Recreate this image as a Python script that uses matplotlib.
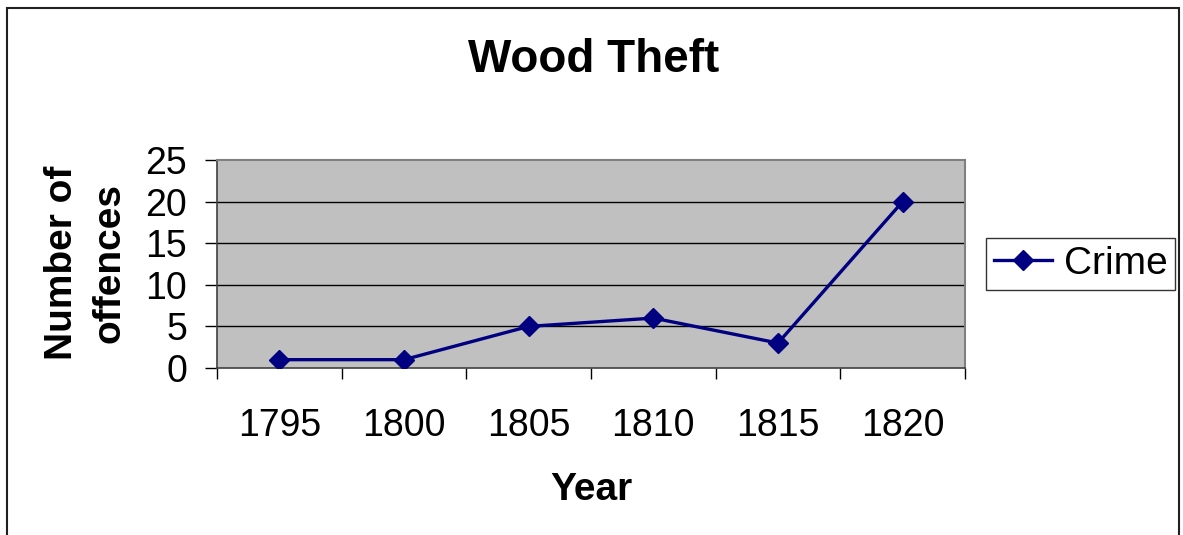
import matplotlib
matplotlib.use("Agg")
import matplotlib.pyplot as plt
from matplotlib.patches import Rectangle

plt.rcParams['font.family'] = ['Liberation Sans', 'DejaVu Sans']

years = ['1795', '1800', '1805', '1810', '1815', '1820']
crime = [1, 1, 5, 6, 3, 20]
yticks = [0, 5, 10, 15, 20, 25]

W, H = 1183, 535
fig = plt.figure(figsize=(W / 100, H / 100), dpi=100)
ax = fig.add_axes([217 / W, 1 - 368 / H, (965 - 217) / W, (368 - 160) / H])
ax.set_facecolor('#C0C0C0')

x = list(range(len(years)))
ax.plot(x, crime, color='#000080', lw=2.4, marker='D', ms=10, label='Crime', zorder=3)

ax.set_xlim(-0.5, len(years) - 0.5)
ax.set_ylim(0, 25)
ax.set_yticks(yticks)
ax.set_yticklabels([str(v) for v in yticks], fontsize=27)
ax.set_xticks(x)
ax.set_xticklabels(years, fontsize=27)
ax.set_xticks([i - 0.5 for i in range(len(years) + 1)], minor=True)
ax.tick_params(axis='x', which='major', length=0, pad=28.5)
ax.tick_params(axis='x', which='minor', length=8, width=1, direction='out', color='black')
ax.tick_params(axis='y', which='major', length=8.5, width=1, direction='out', pad=13, color='black')

for v in yticks[1:-1]:
    ax.axhline(v, color='black', lw=1, zorder=1)

for s in ['top', 'right']:
    ax.spines[s].set_color('#808080')
    ax.spines[s].set_linewidth(1.5)
for s in ['left', 'bottom']:
    ax.spines[s].set_color('#404040')
    ax.spines[s].set_linewidth(1.2)

fig.text(594 / W, 1 - 72 / H, 'Wood Theft', fontsize=33, fontweight='bold', ha='center', va='baseline')
fig.text(591 / W, 1 - 500 / H, 'Year', fontsize=28, fontweight='bold', ha='center', va='baseline')
fig.text(86 / W, 1 - 263 / H, 'Number of\noffences', fontsize=28, fontweight='bold', rotation=90,
         ha='center', va='center', multialignment='center', linespacing=1.4)

leg = fig.legend(loc='center left', bbox_to_anchor=(986 / W, 1 - 264 / H), fontsize=28,
                 frameon=True, fancybox=False, shadow=False, handlelength=1.5, handletextpad=0.3,
                 borderpad=0.2, borderaxespad=0)
leg.get_frame().set_edgecolor('black')
leg.get_frame().set_linewidth(1)

fig.patches.append(Rectangle((7 / W, -0.05), (1179 - 7) / W, 1.05 - 8 / H, transform=fig.transFigure,
                             fill=False, edgecolor='#202020', lw=1.5))

fig.savefig('out.png', dpi=100)
